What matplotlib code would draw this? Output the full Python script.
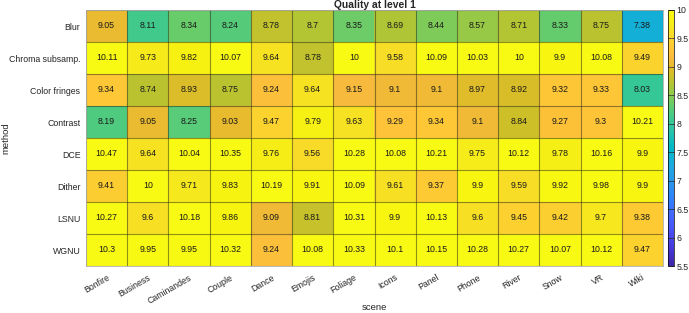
import numpy as np
import matplotlib
matplotlib.use('Agg')
import matplotlib.pyplot as plt
from matplotlib.colors import LinearSegmentedColormap

plt.rcParams['font.family'] = ['Liberation Sans', 'DejaVu Sans']

# Data
scenes = ['Bonfire', 'Business', 'Caminandes', 'Couple', 'Dance', 'Emojis', 'Foliage',
          'Icons', 'Panel', 'Phone', 'River', 'Snow', 'VR', 'Wiki']
methods = ['Blur', 'Chroma subsamp.', 'Color fringes', 'Contrast', 'DCE', 'Dither', 'LSNU', 'WGNU']

blur = [9.05, 8.11, 8.34, 8.24, 8.78, 8.7, 8.35, 8.69, 8.44, 8.57, 8.71, 8.33, 8.75, 7.38]
chroma = [10.11, 9.73, 9.82, 10.07, 9.64, 8.78, 10, 9.58, 10.09, 10.03, 10, 9.9, 10.08, 9.49]
fringes = [9.34, 8.74, 8.93, 8.75, 9.24, 9.64, 9.15, 9.1, 9.1, 8.97, 8.92, 9.32, 9.33, 8.03]
contrast = [8.19, 9.05, 8.25, 9.03, 9.47, 9.79, 9.63, 9.29, 9.34, 9.1, 8.84, 9.27, 9.3, 10.21]
dce = [10.47, 9.64, 10.04, 10.35, 9.76, 9.56, 10.28, 10.08, 10.21, 9.75, 10.12, 9.78, 10.16, 9.9]
dither = [9.41, 10, 9.71, 9.83, 10.19, 9.91, 10.09, 9.61, 9.37, 9.9, 9.59, 9.92, 9.98, 9.9]
lsnu = [10.27, 9.6, 10.18, 9.86, 9.09, 8.81, 10.31, 9.9, 10.13, 9.6, 9.45, 9.42, 9.7, 9.38]
wgnu = [10.3, 9.95, 9.95, 10.32, 9.24, 10.08, 10.33, 10.1, 10.15, 10.28, 10.27, 10.07, 10.12, 9.47]

values = np.array([blur, chroma, fringes, contrast, dce, dither, lsnu, wgnu])

# MATLAB parula colormap (subsampled)
parula_pts = [
    [0.2422, 0.1504, 0.6603], [0.2578, 0.1818, 0.7511], [0.2706, 0.2147, 0.8364],
    [0.2783, 0.2559, 0.8991], [0.2813, 0.3006, 0.9414], [0.2795, 0.3447, 0.9717],
    [0.2699, 0.3892, 0.9906], [0.2440, 0.4358, 0.9988], [0.1963, 0.4847, 0.9892],
    [0.1786, 0.5289, 0.9682], [0.1687, 0.5703, 0.9359], [0.1460, 0.6091, 0.9079],
    [0.1248, 0.6459, 0.8883], [0.0952, 0.6798, 0.8598], [0.0297, 0.7082, 0.8163],
    [0.0067, 0.7312, 0.7660], [0.0964, 0.7500, 0.7120], [0.1717, 0.7670, 0.6554],
    [0.2161, 0.7843, 0.5923], [0.2906, 0.7973, 0.5188], [0.3909, 0.8029, 0.4354],
    [0.5044, 0.7993, 0.3480], [0.6174, 0.7876, 0.2612], [0.7242, 0.7698, 0.1910],
    [0.8203, 0.7498, 0.1535], [0.9035, 0.7330, 0.1774], [0.9728, 0.7298, 0.2394],
    [0.9970, 0.7659, 0.2199], [0.9892, 0.8136, 0.1885], [0.9739, 0.8637, 0.1547],
    [0.9644, 0.9161, 0.1140], [0.9706, 0.9592, 0.0560], [0.9769, 0.9839, 0.0805],
]
parula = LinearSegmentedColormap.from_list('parula', parula_pts)

fig = plt.figure(figsize=(6.89, 3.13), dpi=100)
ax = fig.add_axes([86 / 689, 47 / 313, 577 / 689, 256 / 313])
cax = fig.add_axes([668 / 689, 47 / 313, 6 / 689, 256 / 313])

im = ax.imshow(values, cmap=parula, vmin=5.5, vmax=10, aspect='auto', interpolation='nearest')

# cell borders
ax.set_xticks(np.arange(-0.5, len(scenes)), minor=True)
ax.set_yticks(np.arange(-0.5, len(methods)), minor=True)
ax.grid(which='minor', color=(0.15, 0.15, 0.1), alpha=0.5, linewidth=0.8)
ax.tick_params(which='both', length=0)

for i in range(len(methods)):
    for j in range(len(scenes)):
        ax.text(j, i, f"{values[i, j]:g}", ha='center', va='center', fontsize=6.3, color='#1a1a1a')

ax.set_xticks(np.arange(len(scenes)))
ax.set_xticklabels(scenes, rotation=30, ha='right', rotation_mode='anchor', fontsize=6.3, color='#262626')
ax.set_yticks(np.arange(len(methods)))
ax.set_yticklabels(methods, fontsize=6.3, color='#262626')
ax.tick_params(axis='x', pad=5)
ax.tick_params(axis='y', pad=4)
for s in ax.spines.values():
    s.set_color('#b0b0b0')
    s.set_linewidth(0.6)

ax.set_xlabel('scene', fontsize=6.8, color='#262626', va='center')
ax.xaxis.set_label_coords(0.5, (266 - 307) / 256)
ax.set_ylabel('method', fontsize=6.8, color='#262626', ha='center', va='center')
ax.yaxis.set_label_coords((6 - 86) / 577, 0.5)
ax.set_title('Quality at level 1', fontsize=7.4, fontweight='bold', color='#262626', pad=1.5)

cb = fig.colorbar(im, cax=cax)
ticks = np.arange(5.5, 10.01, 0.5)
cb.set_ticks(ticks)
cb.set_ticklabels([f"{t:g}" for t in ticks])
cb.ax.yaxis.set_ticks_position('both')
cb.ax.tick_params(labelsize=6.3, length=2, width=0.5, direction='in', colors='#262626', pad=2)
cb.outline.set_linewidth(0.5)

fig.savefig('out.png', dpi=100)
